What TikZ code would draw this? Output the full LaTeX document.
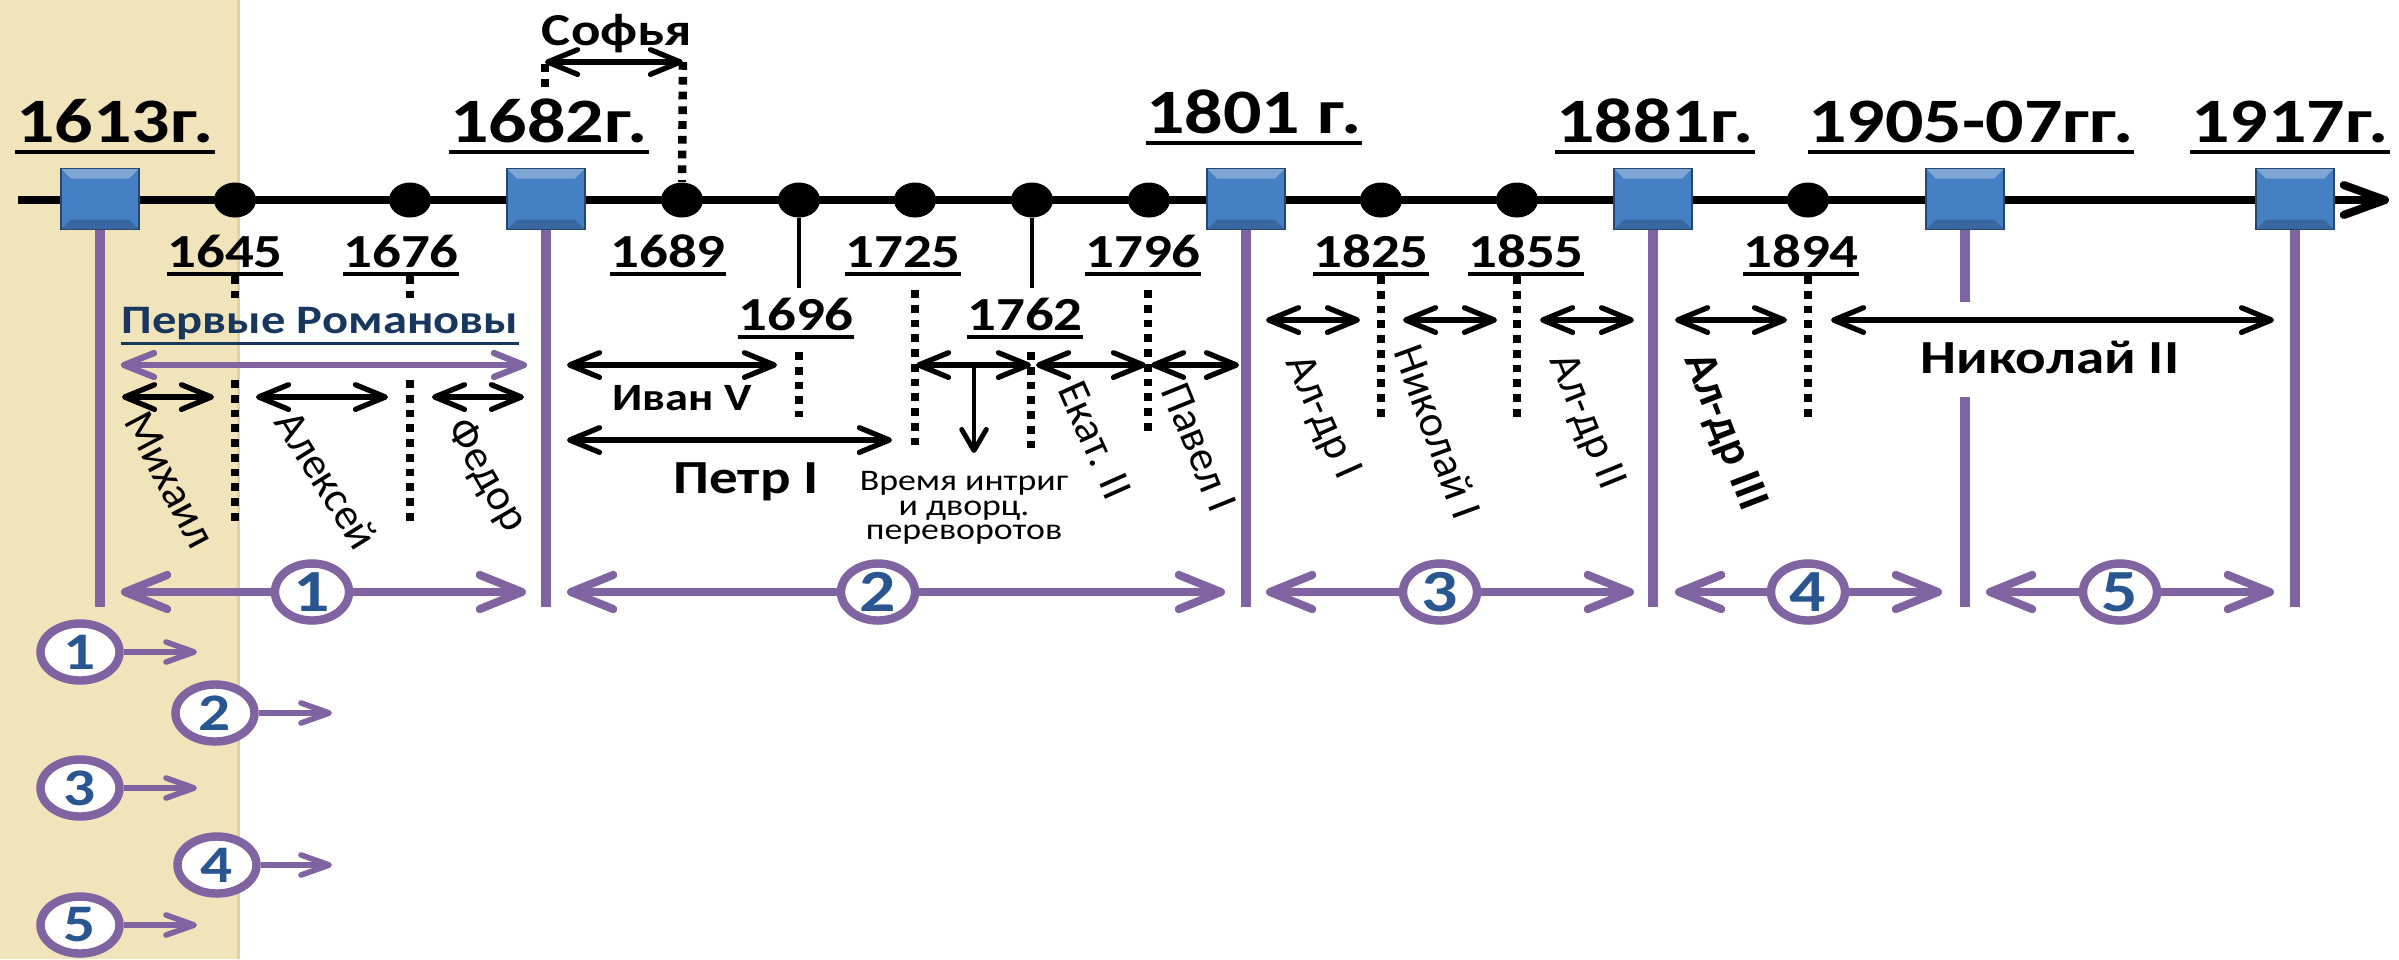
\documentclass[tikz,border=0pt]{standalone}
\usepackage{fontspec}
\setmainfont{Carlito}[FakeStretch=1.2]
\newfontfamily\plainfont{Carlito}
\usetikzlibrary{arrows.meta, shapes.geometric}

\definecolor{lilac}{RGB}{128,100,162}
\definecolor{boxblue}{RGB}{70,128,196}
\definecolor{numblue}{RGB}{41,85,145}
\definecolor{navy}{RGB}{23,55,94}
\definecolor{sand}{RGB}{241,227,186}

\newcommand{\fsz}[1]{\fontsize{#1}{#1}\selectfont}

\begin{document}
\begin{tikzpicture}[x=0.01cm, y=-0.01cm,
    yearbox/.style={rectangle, fill=boxblue, draw=boxblue!55!black, line width=0.4pt,
        minimum width=7.8mm, minimum height=6.1mm, inner sep=0pt,
        path picture={
            \fill[white, opacity=0.3] (path picture bounding box.north west) -- (path picture bounding box.north east)
                -- ([shift={(-1mm,-1mm)}]path picture bounding box.north east) -- ([shift={(1mm,-1mm)}]path picture bounding box.north west) -- cycle;
            \fill[black, opacity=0.18] (path picture bounding box.south west) -- (path picture bounding box.south east)
                -- ([shift={(-1mm,1mm)}]path picture bounding box.south east) -- ([shift={(1mm,1mm)}]path picture bounding box.south west) -- cycle;
        }},
    event/.style={ellipse, fill=black, minimum width=4.2mm, minimum height=3.5mm, inner sep=0pt},
    underlined/.style={append after command={(\tikzlastnode.south west) edge[line width=#1] (\tikzlastnode.south east)}},
    bigyear/.style={font=\fsz{18}\bfseries, inner xsep=0pt, inner ysep=2.6pt, text depth=0pt, anchor=base, underlined=1.1pt},
    smallyear/.style={font=\fsz{13.5}\bfseries, inner xsep=0pt, inner ysep=1.8pt, text depth=0pt, anchor=base, underlined=0.9pt},
    dotline/.style={line width=2.4pt, dash pattern=on 2.2pt off 2pt},
    reign/.style={{Straight Barb[length=8.5pt, width=7pt, round]}-{Straight Barb[length=8.5pt, width=7pt, round]}, line width=1.5pt},
    period/.style={-{Straight Barb[length=12pt, width=9.7pt, round]}, lilac, line width=2.3pt},
    periodline/.style={lilac, line width=2.6pt},
    numring/.style={ellipse, draw=lilac, line width=2.4pt, fill=white, minimum width=7.4mm, minimum height=5.7mm,
        inner sep=0pt, font=\fsz{17}\bfseries, text=numblue},
    legarrow/.style={-{Straight Barb[length=8pt, width=5.7pt, round]}, lilac, line width=1.6pt},
    tsar/.style={font=\plainfont\fsz{12.5}, inner sep=0pt}]

    \useasboundingbox (0,0) rectangle (2399,959);

    % Sand strip on the left
    \fill[sand] (0,0) rectangle (240,959);
    \fill[sand!80!brown] (237,0) rectangle (240,959);

    % Time axis
    \coordinate (ax0) at (18,200);
    \coordinate (ax1) at (2389,200);
    \draw[line width=2.3pt, -{Straight Barb[length=11.7pt, width=8.5pt, round]}] (ax0) -- (ax1);

    % Turning points
    \foreach \n/\x in {1613/100, 1682/546, 1801/1246, 1881/1653, 1905/1965, 1917/2295}
        \node[yearbox] (q\n) at (\x,199) {};

    % Other events
    \foreach \n/\x in {1645/235, 1676/410, 1689/682, 1696/799, 1725/915, 1762/1032, 1796/1149, 1825/1381, 1855/1517, 1894/1808}
        \node[event] (d\n) at (\x,200) {};

    % Dates above the axis
    \foreach \n/\t/\x/\y in {1613/1613г./115/142, 1682/1682г./549/142, 1801/1801 г./1254/133,
                            1881/1881г./1655/142, 1905/1905-07гг./1971/142, 1917/1917г./2290/142}
        \node[bigyear] (t\n) at (\x,\y) {\t};

    % Dates below the axis
    \foreach \n/\x/\y in {1645/225/267, 1676/401/267, 1689/668/267, 1696/796/330, 1725/903/267,
                          1762/1025/330, 1796/1143/267, 1825/1371/267, 1855/1526/267, 1894/1801/267}
        \node[smallyear] (y\n) at (\x,\y) {\n};

    % Period borders
    \foreach \n/\x in {1613/100, 1682/546, 1801/1246, 1881/1653, 1917/2295} {
        \coordinate (v\n) at (\x,607);
        \draw[periodline] (q\n.south) -- (v\n);
    }
    \coordinate (v1905a) at (1965,302);
    \coordinate (v1905b) at (1965,397);
    \coordinate (v1905c) at (1965,607);
    \draw[periodline] (q1905.south) -- (v1905a);
    \draw[periodline] (v1905b) -- (v1905c);

    % Dotted marks
    \foreach \i/\x/\a/\b in {1/235/276/298, 2/235/380/527, 3/410/276/298, 4/410/380/527,
                             5/545/64/88, 6/799/352/417, 7/915/290/448, 8/1031/352/448,
                             9/1148/290/433, 10/1381/276/418, 11/1517/276/418, 12/1808/276/417} {
        \coordinate (m\i a) at (\x,\a);
        \coordinate (m\i b) at (\x,\b);
        \draw[dotline] (m\i a) -- (m\i b);
    }

    % Stems of 1696 and 1762
    \coordinate (s1696) at (799,288);
    \coordinate (s1762) at (1032,288);
    \draw[line width=1.4pt] (d1696) -- (s1696);
    \draw[line width=1.4pt] (d1762) -- (s1762);

    % Reigns
    \foreach \n/\a/\b/\y in {mich/122/214/397, alex/256/388/397, fed/432/524/397,
                             sof/545/683/62, ivan/567/777/365, petr/567/892/440,
                             intr/916/1031/365, ekat/1036/1146/365, pav/1151/1239/365,
                             alI/1266/1360/320, nikI/1403/1497/320, alII/1540/1634/320,
                             alIII/1675/1787/320, nikII/1831/2274/320} {
        \coordinate (\n-l) at (\a,\y);
        \coordinate (\n-r) at (\b,\y);
        \draw[reign] (\n-l) -- (\n-r);
    }
    \draw[dotline] (sof-r) -- (d1689.north);

    % Palace coups
    \coordinate (intr-m) at (974,365);
    \coordinate (intr-d) at (974,453);
    \draw[line width=1.4pt, -{Straight Barb[length=6pt, width=7pt, round]}] (intr-m) -- (intr-d);

    % First Romanovs
    \node[font=\fsz{11.5}\bfseries, text=navy, inner xsep=0pt, inner ysep=1pt, anchor=base] (rom) at (320,333) {Первые Романовы};
    \draw[navy, line width=0.9pt] (rom.south west) -- (rom.south east);
    \coordinate (rom-l) at (121,365);
    \coordinate (rom-r) at (527,365);
    \draw[lilac, line width=1.8pt, {Straight Barb[length=8.5pt, width=6.8pt, round]}-{Straight Barb[length=8.5pt, width=6.8pt, round]}] (rom-l) -- (rom-r);

    % Names
    \node[font=\fsz{13}\bfseries, anchor=base] (sofia) at (617,45) {Софья};
    \node[font=\fsz{11}\bfseries, anchor=base] (ivan) at (682,410) {Иван V};
    \node[font=\fsz{13.5}\bfseries, anchor=base] (petr) at (746,493) {Петр I};
    \node[font=\fsz{13.5}\bfseries, anchor=base] (nikII) at (2050,373) {Николай II};
    \node[font=\fsz{8.5}, align=center, inner sep=0pt] (coups) at (964,508) {Время интриг\\[-1.5pt] и дворц.\\[-1.5pt] переворотов};

    \node[tsar, rotate=-62] (mich) at (170,480) {Михаил};
    \node[tsar, rotate=-58] (alex) at (327,480) {Алексей};
    \node[tsar, rotate=-60] (fed) at (486,476) {Федор};
    \node[tsar, rotate=-66] (ekat) at (1095,440) {Екат. II};
    \node[tsar, rotate=-68] (pav) at (1199,447) {Павел I};
    \node[tsar, rotate=-66] (alI) at (1322,418) {Ал-др I};
    \node[tsar, rotate=-70] (nikI) at (1438,432) {Николай I};
    \node[tsar, rotate=-68] (alII) at (1586,422) {Ал-др II};
    \node[tsar, font=\plainfont\fsz{13}\bfseries, rotate=-69] (alIII) at (1724,432) {Ал-др III};

    % Periods
    \foreach \n/\c/\a/\b in {1/312/121/526, 2/878/567/1225, 3/1440/1266/1634, 4/1808/1675/1942, 5/2120/1986/2274} {
        \coordinate (p\n-l) at (\a,592);
        \coordinate (p\n-r) at (\b,592);
        \node[numring] (p\n) at (\c,592) {\n};
        \draw[period] (p\n) -- (p\n-l);
        \draw[period] (p\n) -- (p\n-r);
    }

    % Legend
    \foreach \n/\c/\y/\e in {1/80/652/197, 2/215/713/332, 3/80/788/197, 4/217/865/332, 5/80/925/197} {
        \node[numring, font=\fsz{15}\bfseries, minimum width=7.9mm] (leg\n) at (\c,\y) {\n};
        \coordinate (leg\n-e) at (\e,\y);
        \draw[legarrow] (leg\n) -- (leg\n-e);
    }
\end{tikzpicture}
\end{document}
